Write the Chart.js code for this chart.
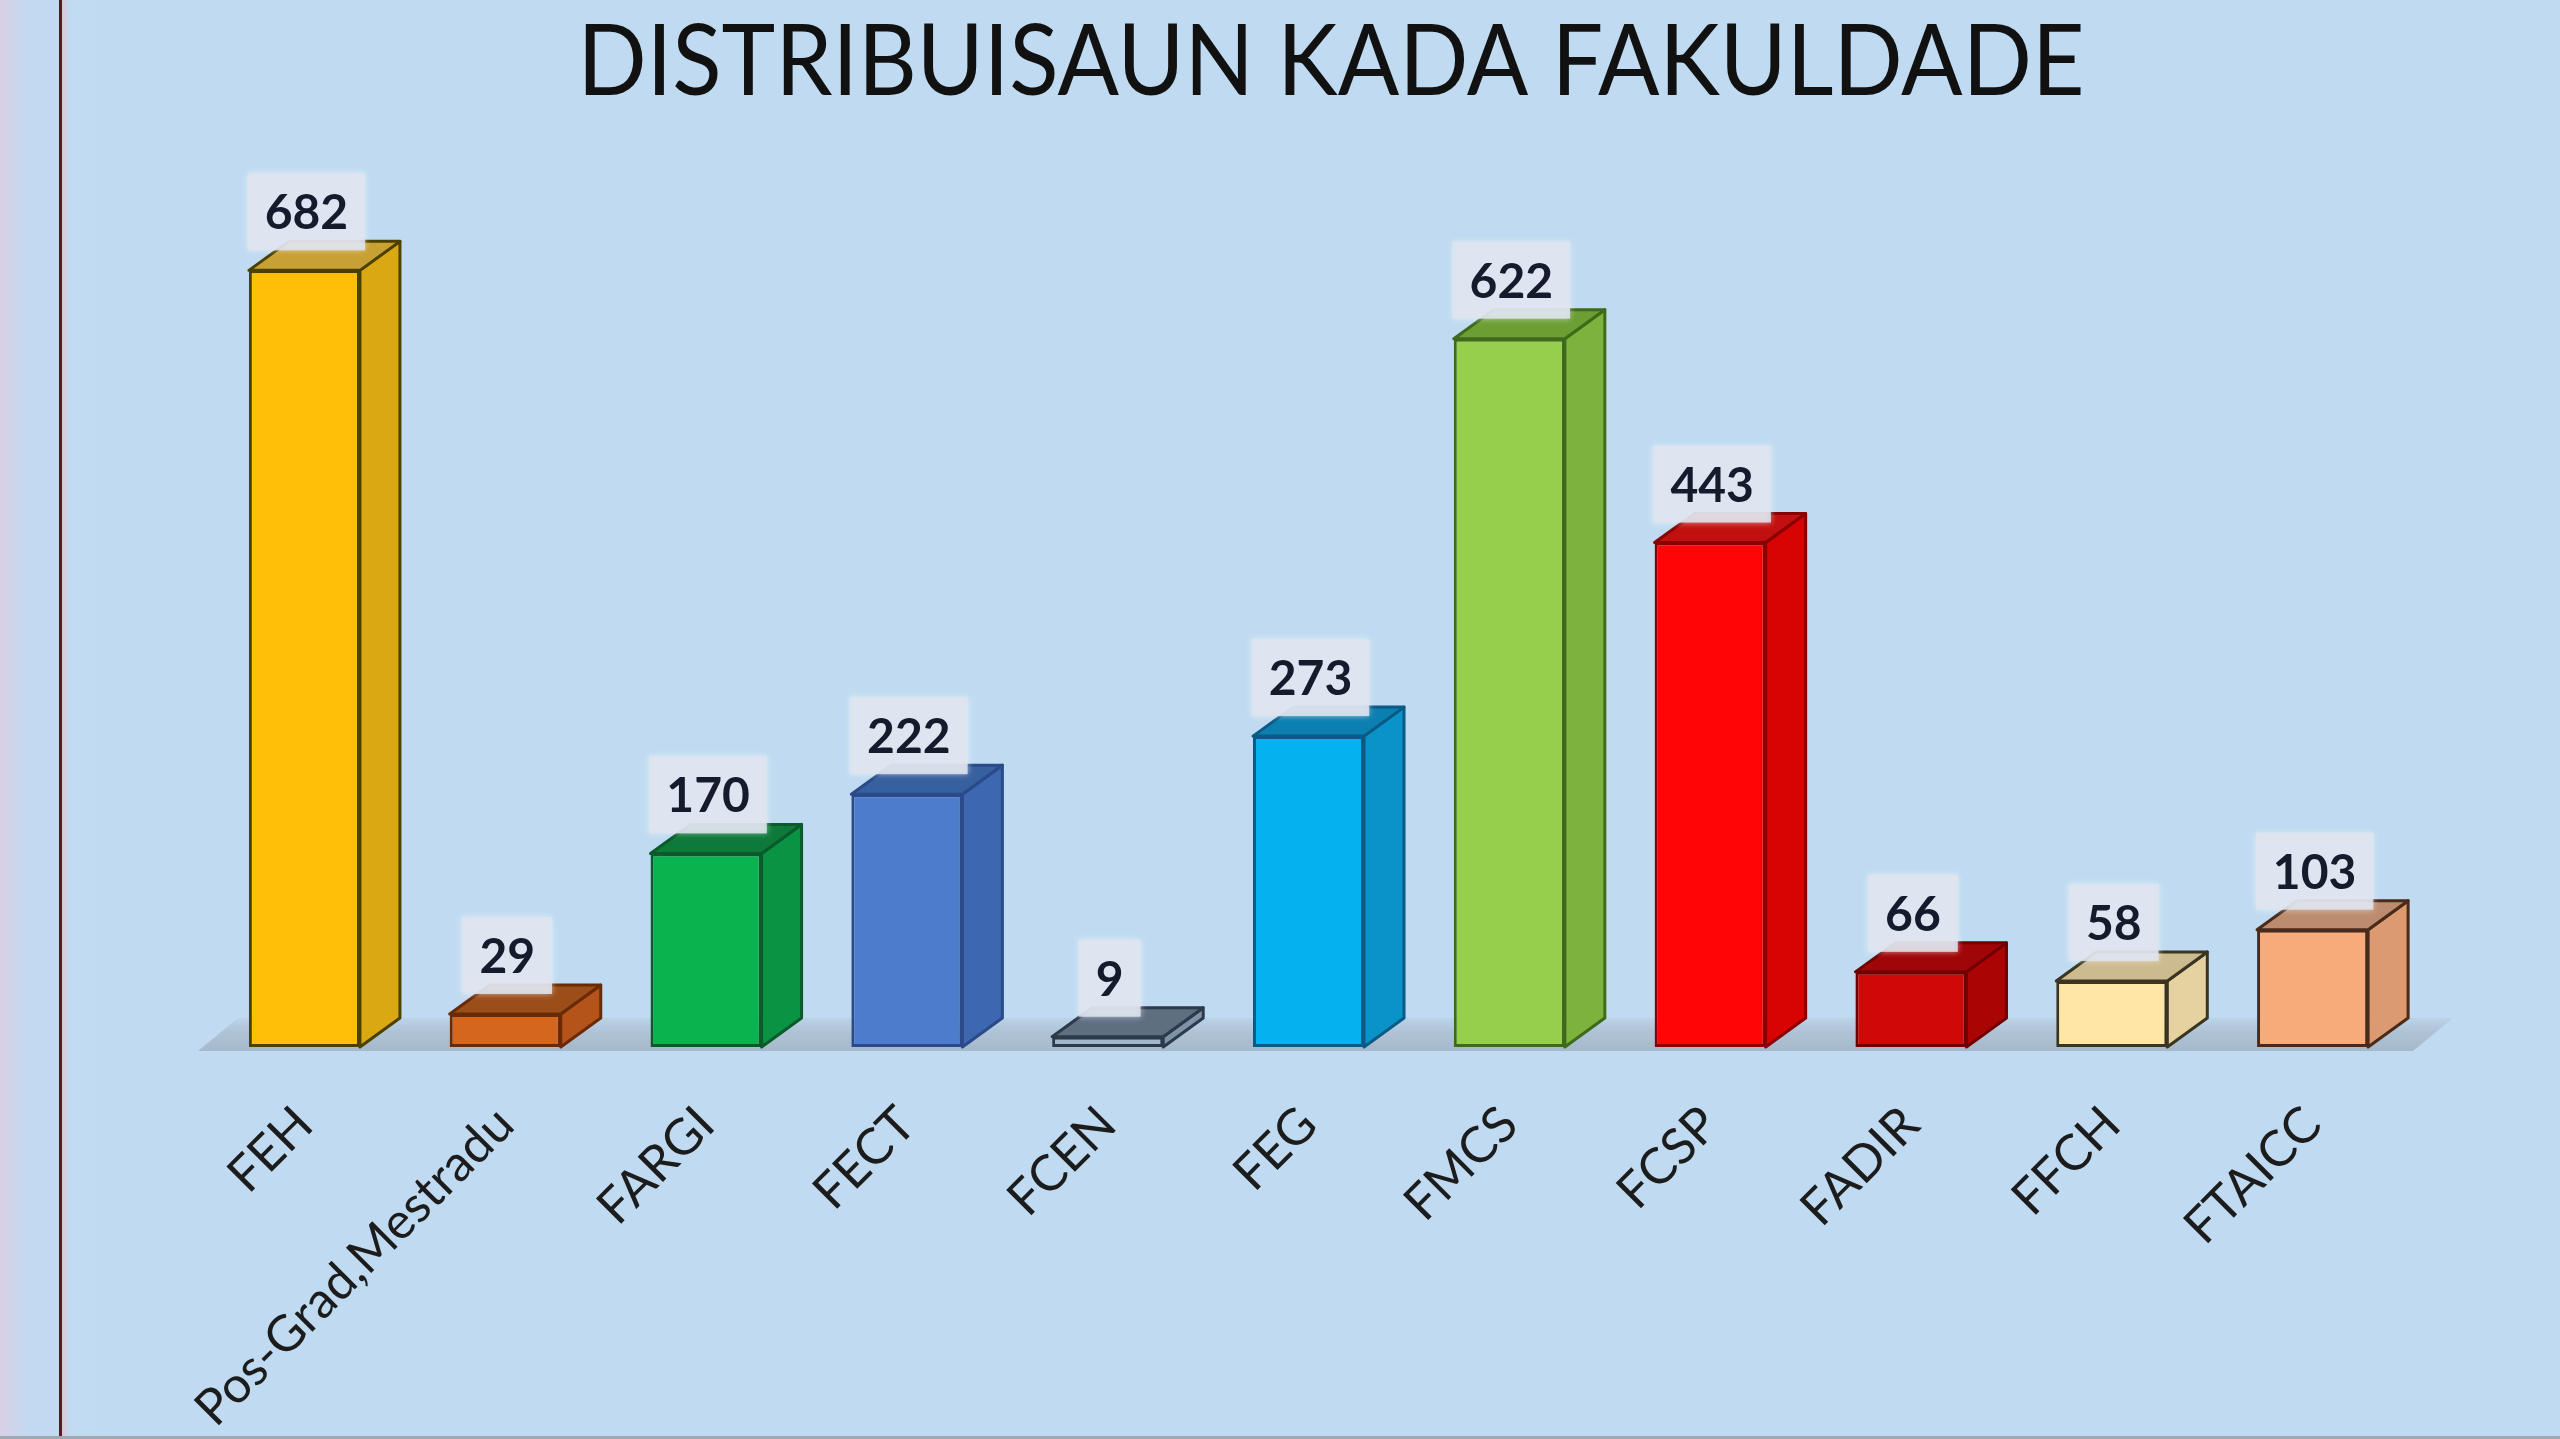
<!DOCTYPE html>
<html><head><meta charset="utf-8">
<script src="https://cdn.jsdelivr.net/npm/chart.js@4.4.1/dist/chart.umd.min.js"></script>
<style>
html,body{margin:0;padding:0;width:2560px;height:1439px;overflow:hidden;background:#C0DBF1;}
#bg{position:absolute;left:0;top:0;width:2560px;height:1439px;background:linear-gradient(to right,#D8D1E6 0px,#CDD5EC 14px,#C2DAF1 30px,#C0DBF1 120px);}
#rl{position:absolute;left:59px;top:0;width:3px;height:1439px;background:#5a1a22;box-shadow:3px 0 4px #f0b8c4;}
#bl{position:absolute;left:0;top:1436px;width:2560px;height:3px;background:#9ea9b4;}
canvas{position:absolute;left:0;top:0;}
</style></head><body>
<div id="bg"></div><div id="rl"></div><div id="bl"></div>
<canvas id="c" width="2560" height="1439"></canvas>
<script>
const chartTitle = 'DISTRIBUISAUN KADA FAKULDADE';
const categories = ['FEH','Pos-Grad,Mestradu','FARGI','FECT','FCEN','FEG','FMCS','FCSP','FADIR','FFCH','FTAICC'];
const counts = [682, 29, 170, 222, 9, 273, 622, 443, 66, 58, 103];
const frontColors = ['#FFBF08','#D4661E','#0BB34E','#4C7CCB','#A3B6CA','#06B1EF','#95CF4C','#FF0505','#D00808','#FFE6A6','#F7AA7A'];
const sideColors  = ['#D9A812','#B5541A','#0A9342','#3E67B2','#7E92A8','#0A93C9','#7DB23C','#D80303','#AA0404','#E6D2A0','#DB9A70'];
const topColors   = ['#C7A134','#9C4E1A','#0E7A3A','#37609E','#5E6F82','#0B7FB0','#6C9E34','#C21010','#A00508','#CDBB90','#BD8C6E'];
const edgeColors  = ['#4C4000','#6A2A06','#0B5A2B','#2A4A8A','#2C3A4A','#0A5A86','#3E6A1A','#8A0000','#700000','#3A3520','#4A2A1A'];

const DX = 40, DY = 29;

const bar3d = {
  id: 'bar3d',
  beforeDatasetsDraw(chart) {
    const ctx = chart.ctx, a = chart.chartArea;
    const base = chart.scales.y.getPixelForValue(0);
    ctx.save();
    const g = ctx.createLinearGradient(0, base - DY - 6, 0, base + 4);
    g.addColorStop(0, 'rgba(150,160,175,0)');
    g.addColorStop(0.5, 'rgba(150,160,175,0.4)');
    g.addColorStop(1, 'rgba(140,150,165,0.5)');
    ctx.fillStyle = g;
    ctx.beginPath();
    ctx.moveTo(a.left - 6, base + 4);
    ctx.lineTo(a.left + DX - 6, base - DY);
    ctx.lineTo(a.right + DX, base - DY);
    ctx.lineTo(a.right, base + 4);
    ctx.closePath();
    ctx.fill();
    ctx.restore();
  },
  afterDatasetsDraw(chart) {
    const ctx = chart.ctx;
    const meta = chart.getDatasetMeta(0);
    meta.data.forEach((bar, i) => {
      const p = bar.getProps(['x','y','base','width'], true);
      const l = p.x - p.width / 2, r = p.x + p.width / 2, y = p.y, b = p.base;
      ctx.save();
      ctx.lineJoin = 'round';
      ctx.lineWidth = 3;
      ctx.strokeStyle = edgeColors[i];
      ctx.beginPath();
      ctx.moveTo(r, y); ctx.lineTo(r + DX, y - DY); ctx.lineTo(r + DX, b - DY); ctx.lineTo(r, b); ctx.closePath();
      ctx.fillStyle = sideColors[i]; ctx.fill(); ctx.stroke();
      ctx.beginPath();
      ctx.moveTo(l, y); ctx.lineTo(l + DX, y - DY); ctx.lineTo(r + DX, y - DY); ctx.lineTo(r, y); ctx.closePath();
      ctx.fillStyle = topColors[i]; ctx.fill(); ctx.stroke();
      ctx.restore();
    });
    meta.data.forEach((bar, i) => {
      const p = bar.getProps(['x','y'], true);
      const txt = String(counts[i]);
      ctx.save();
      ctx.font = 'bold 48px Lato';
      const w = ctx.measureText(txt).width + 34;
      const h = 77;
      const cx = p.x + 2, bottom = p.y - 20;
      ctx.shadowColor = 'rgba(255,255,255,0.6)';
      ctx.shadowBlur = 6;
      ctx.fillStyle = 'rgba(222,228,238,0.88)';
      ctx.fillRect(cx - w / 2, bottom - h, w, h);
      ctx.shadowBlur = 0;
      ctx.fillStyle = '#151a2c';
      ctx.textAlign = 'center';
      ctx.textBaseline = 'middle';
      ctx.fillText(txt, cx, bottom - h / 2 + 2);
      ctx.restore();
    });
  },
  afterDraw(chart) {
    const ctx = chart.ctx;
    ctx.save();
    ctx.font = '98px Lato';
    ctx.fillStyle = '#111111';
    ctx.textAlign = 'center';
    ctx.textBaseline = 'alphabetic';
    const m = ctx.measureText(chartTitle).width;
    const sx = 1507 / m;
    ctx.translate(1331, 95);
    ctx.scale(sx, 1);
    ctx.fillText(chartTitle, 0, 0);
    ctx.restore();
  }
};

new Chart(document.getElementById('c'), {
  type: 'bar',
  data: {
    labels: categories,
    datasets: [{
      data: counts,
      backgroundColor: frontColors,
      borderColor: edgeColors,
      borderWidth: 3,
      borderSkipped: false,
      categoryPercentage: 1,
      barPercentage: 0.553
    }]
  },
  options: {
    responsive: false,
    devicePixelRatio: 1,
    animation: false,
    layout: { padding: { left: 204, right: 147, top: 136, bottom: 0 } },
    plugins: {
      legend: { display: false },
      tooltip: { enabled: false },
      title: { display: false }
    },
    scales: {
      x: {
        grid: { display: false },
        border: { display: false },
        ticks: {
          color: '#1c1c1c',
          font: { family: 'Lato', size: 50 },
          minRotation: 45,
          maxRotation: 45,
          padding: 40,
          autoSkip: false
        },
        afterFit: (s) => { s.height = 392; }
      },
      y: {
        display: false,
        min: 0,
        max: 800
      }
    }
  },
  plugins: [bar3d]
});
</script>
</body></html>
